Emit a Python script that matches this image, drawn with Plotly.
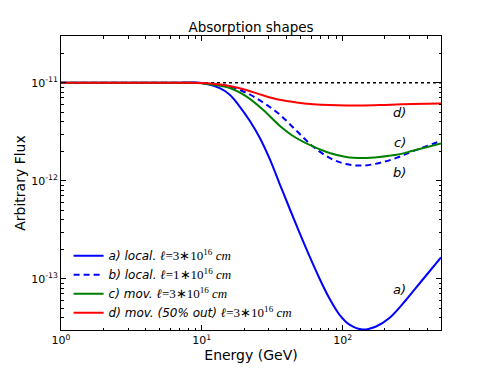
import numpy as np
import plotly.graph_objects as go

# energies (GeV) and fluxes
energy_a = [1, 5, 7, 9.68, 13.4, 15.8, 18.6, 21.9, 25.8, 30.3, 35.7, 42.1, 49.5, 58.4, 68.7, 80.9,
            95.2, 112, 139, 173, 215, 283, 370, 500]
flux_a = [1e-11, 1e-11, 1e-11, 9.98e-12, 8.8e-12, 7.55e-12, 5.72e-12, 4.09e-12, 2.75e-12, 1.68e-12,
          9.31e-13, 5.18e-13, 2.94e-13, 1.68e-13, 1.0e-13, 6.25e-14, 4.29e-14, 3.4e-14, 3.03e-14,
          3.26e-14, 3.97e-14, 6.11e-14, 9.77e-14, 1.65e-13]

energy = [1, 5, 8, 10, 12.0, 15.8, 20.7, 27.2, 35.7, 46.9, 61.6, 80.9, 106, 139, 183, 241, 315, 500]
flux_b = [1e-11, 1e-11, 1e-11, 9.95e-12, 9.8e-12, 9.17e-12, 7.9e-12, 6.3e-12, 4.75e-12, 3.25e-12,
          2.24e-12, 1.71e-12, 1.48e-12, 1.43e-12, 1.52e-12, 1.71e-12, 2.0e-12, 2.55e-12]
flux_c = [1e-11, 1e-11, 1e-11, 9.9e-12, 9.54e-12, 8.83e-12, 7.25e-12, 5.3e-12, 3.65e-12, 2.73e-12,
          2.24e-12, 1.92e-12, 1.75e-12, 1.71e-12, 1.75e-12, 1.84e-12, 2.02e-12, 2.4e-12]
flux_d = [1e-11, 1e-11, 1e-11, 9.95e-12, 9.77e-12, 9.25e-12, 8.45e-12, 7.45e-12, 6.7e-12, 6.3e-12,
          6.05e-12, 5.92e-12, 5.87e-12, 5.87e-12, 5.92e-12, 6.0e-12, 6.07e-12, 6.15e-12]

unabsorbed = 1e-11
x_lim = [1, 500]
y_lim = [3e-14, 3e-11]

math = '<span style="font-family:Liberation Serif;font-size:13px"><i>ℓ</i>=3∗10<sup>16</sup> <i>cm</i></span>'
math1 = '<span style="font-family:Liberation Serif;font-size:13px"><i>ℓ</i>=1∗10<sup>16</sup> <i>cm</i></span>'
names = [
    "<i>a) local.</i> " + math,
    "<i>b) local.</i> " + math1,
    "<i>c) mov.</i> " + math,
    "<i>d) mov. (50% out)</i> " + math,
]
tags = ["a)", "b)", "c)", "d)"]
tag_y = [7.7e-14, 1.21e-12, 2.44e-12, 4.94e-12]
tag_x = 254

x_tickvals = [1, 10, 100]
x_ticktext = ["10<sup>0</sup>", "10<sup>1</sup>", "10<sup>2</sup>"]
y_tickvals = [1e-13, 1e-12, 1e-11]
y_ticktext = ["10<sup>-13</sup>", "10<sup>-12</sup>", "10<sup>-11</sup>"]

fig = go.Figure()

# reference level (dotted)
fig.add_trace(go.Scatter(x=x_lim, y=[unabsorbed, unabsorbed], mode="lines",
                         line=dict(color="black", width=1.3, dash="dot"),
                         showlegend=False, hoverinfo="skip"))

fig.add_trace(go.Scatter(x=energy_a, y=flux_a, mode="lines", name=names[0],
                         line=dict(color="#0000ff", width=2, shape="spline")))
fig.add_trace(go.Scatter(x=energy, y=flux_b, mode="lines", name=names[1],
                         line=dict(color="#0000ff", width=2, shape="spline", dash="6px,4px")))
fig.add_trace(go.Scatter(x=energy, y=flux_c, mode="lines", name=names[2],
                         line=dict(color="#008000", width=2, shape="spline")))
fig.add_trace(go.Scatter(x=energy, y=flux_d, mode="lines", name=names[3],
                         line=dict(color="#ff0000", width=2, shape="spline")))

for t, ty in zip(tags, tag_y):
    fig.add_annotation(x=np.log10(tag_x), y=np.log10(ty), text="<i>" + t + "</i>",
                       showarrow=False, font=dict(size=13, color="black"))

axis_common = dict(type="log", showline=True, linecolor="black", linewidth=1, mirror="ticks",
                   ticks="inside", ticklen=5, tickcolor="black", showgrid=False, zeroline=False,
                   automargin=False, tickfont=dict(size=11, color="black"),
                   minor=dict(ticks="inside", ticklen=2.5, tickcolor="black", dtick="D1",
                              showgrid=False))

fig.update_xaxes(range=[np.log10(x_lim[0]), np.log10(x_lim[1])], tickvals=x_tickvals,
                 ticktext=x_ticktext,
                 title=dict(text="Energy (GeV)", font=dict(size=14, color="black"), standoff=3),
                 **axis_common)
fig.update_yaxes(range=[np.log10(y_lim[0]), np.log10(y_lim[1])], tickvals=y_tickvals,
                 ticktext=y_ticktext,
                 title=dict(text="Arbitrary Flux", font=dict(size=14, color="black"), standoff=2),
                 **axis_common)

fig.update_layout(
    width=491, height=368,
    margin=dict(l=61, r=50, t=36, b=38),
    paper_bgcolor="white", plot_bgcolor="white",
    font=dict(family="DejaVu Sans", color="black"),
    title=dict(text="Absorption shapes", x=0.5, xref="paper", y=1 - 27 / 368, yanchor="middle",
               font=dict(size=13.5, color="black")),
    legend=dict(x=0.02, y=0.302, xanchor="left", yanchor="top", bgcolor="rgba(0,0,0,0)",
                font=dict(size=12, color="black"), tracegroupgap=0, itemwidth=30),
)

# drop the default page margin so the figure fills the window exactly
fig.write_html("out.html", config={"displayModeBar": False},
               post_script="document.body.style.margin='0';"
                           "document.documentElement.style.overflow='hidden';")
